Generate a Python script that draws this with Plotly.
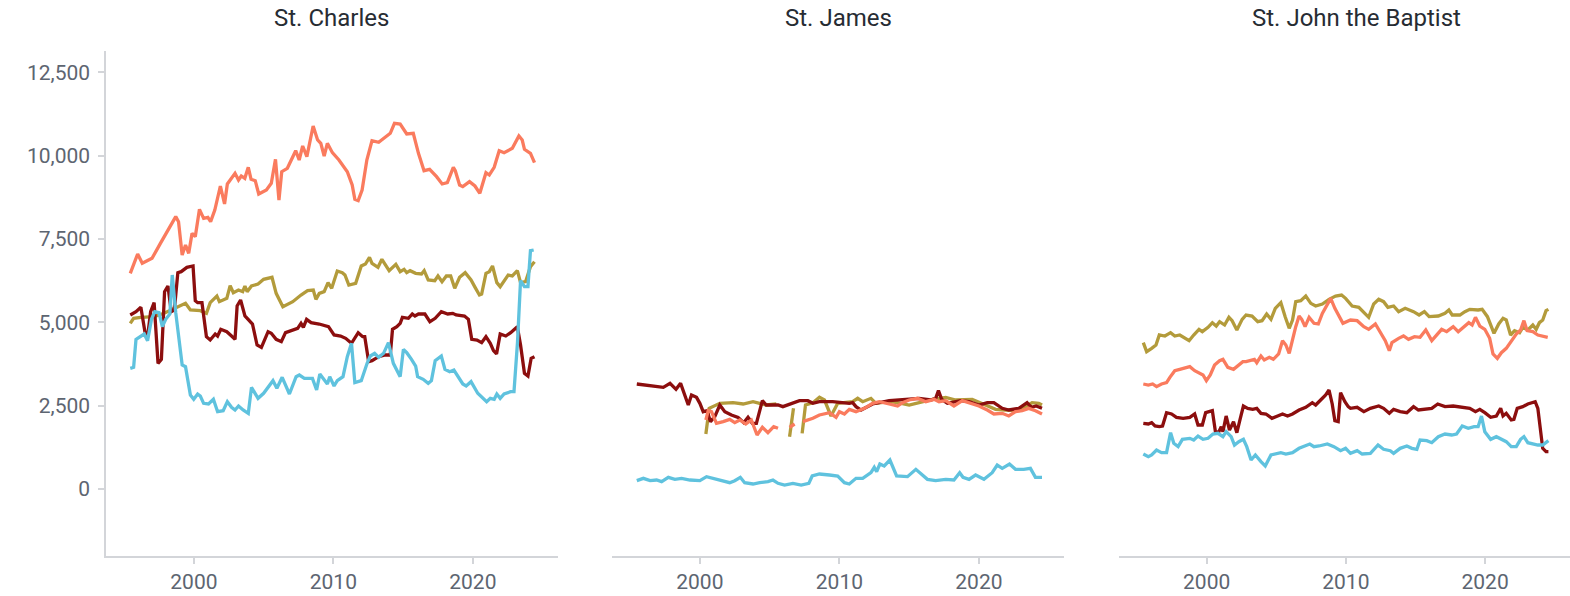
import plotly.graph_objects as go

# ---------------- data (year, value) ----------------
panels = ["St. Charles", "St. James", "St. John the Baptist"]
series_names = ["Series A", "Series B", "Series C", "Series D"]
colors = ["#B39B3B", "#8C0E0E", "#FA7B5E", "#5FC2DE"]  # olive, dark red, salmon, blue

# St. Charles
charles_salmon_x = [1995.44, 1995.85, 1995.97, 1996.3, 1997.0, 1997.6, 1998.2, 1998.7, 1998.9, 1999.16, 1999.4, 1999.63, 1999.87, 2000.1, 2000.4, 2000.7, 2001.0, 2001.2, 2001.5, 2001.9, 2002.2, 2002.4, 2002.95, 2003.2, 2003.4, 2003.65, 2003.9, 2004.1, 2004.4, 2004.65, 2005.2, 2005.55, 2005.85, 2006.1, 2006.3, 2006.7, 2007.3, 2007.55, 2007.8, 2008.1, 2008.55, 2008.87, 2009.1, 2009.34, 2009.57, 2009.93, 2010.4, 2011.0, 2011.35, 2011.54, 2011.78, 2012.06, 2012.4, 2012.77, 2013.25, 2013.72, 2014.08, 2014.38, 2014.79, 2015.26, 2015.73, 2016.1, 2016.5, 2016.9, 2017.4, 2017.8, 2018.17, 2018.6, 2018.74, 2019.05, 2019.28, 2019.76, 2020.15, 2020.5, 2020.94, 2021.18, 2021.53, 2021.89, 2022.24, 2022.83, 2023.3, 2023.54, 2023.7, 2024.13, 2024.42]
charles_salmon_y = [6470, 6970, 7050, 6770, 6920, 7370, 7820, 8170, 8020, 7020, 7320, 7070, 7670, 7570, 8390, 8120, 8150, 8020, 8370, 9090, 8550, 9150, 9470, 9270, 9390, 9320, 9650, 9290, 9250, 8850, 8970, 9170, 9890, 8670, 9520, 9620, 10150, 9870, 10290, 9970, 10890, 10470, 10370, 9990, 10370, 10090, 9870, 9520, 9120, 8690, 8650, 8970, 9870, 10450, 10400, 10570, 10670, 10970, 10950, 10650, 10670, 10070, 9550, 9590, 9370, 9150, 9190, 9650, 9550, 9120, 9070, 9220, 9090, 8870, 9490, 9420, 9650, 10150, 10090, 10220, 10590, 10470, 10190, 10070, 9790]

charles_olive_x = [1995.44, 1995.68, 1996.2, 1997.15, 1997.86, 1998.8, 1999.4, 1999.75, 2000.46, 2000.9, 2001.17, 2001.65, 2001.83, 2002.36, 2002.6, 2002.83, 2003.2, 2003.5, 2003.66, 2003.82, 2004.13, 2004.6, 2005.0, 2005.6, 2005.9, 2006.38, 2007.09, 2007.68, 2008.15, 2008.56, 2008.75, 2008.99, 2009.34, 2009.62, 2009.88, 2010.28, 2010.64, 2010.83, 2011.11, 2011.6, 2012.0, 2012.3, 2012.59, 2012.77, 2013.2, 2013.48, 2014.0, 2014.48, 2014.79, 2015.07, 2015.26, 2015.5, 2015.9, 2016.32, 2016.51, 2016.8, 2017.27, 2017.5, 2017.79, 2018.1, 2018.41, 2018.7, 2019.05, 2019.45, 2019.87, 2020.16, 2020.47, 2020.63, 2020.94, 2021.18, 2021.41, 2021.72, 2021.96, 2022.53, 2022.83, 2023.19, 2023.42, 2023.78, 2024.13, 2024.42]
charles_olive_y = [4970, 5120, 5150, 5170, 5270, 5450, 5570, 5370, 5350, 5270, 5590, 5790, 5620, 5720, 6100, 5890, 5970, 5920, 6090, 5920, 6090, 6150, 6290, 6350, 5870, 5470, 5620, 5820, 5950, 5970, 5690, 5870, 5920, 6190, 6020, 6540, 6490, 6420, 6120, 6170, 6690, 6750, 6950, 6770, 6650, 6890, 6550, 6740, 6520, 6590, 6490, 6550, 6470, 6450, 6550, 6270, 6250, 6390, 6220, 6390, 6390, 6020, 6350, 6490, 6270, 6050, 5820, 5850, 6470, 6520, 6690, 6190, 6070, 6420, 6390, 6550, 6190, 6220, 6670, 6820]

charles_red_x = [1995.44, 1995.85, 1996.2, 1996.49, 1996.68, 1996.9, 1997.15, 1997.43, 1997.67, 1997.9, 1998.14, 1998.38, 1998.6, 1998.85, 1999.09, 1999.5, 1999.94, 2000.1, 2000.27, 2000.58, 2000.9, 2001.17, 2001.53, 2001.7, 2001.93, 2002.36, 2002.7, 2002.95, 2003.1, 2003.35, 2003.66, 2003.9, 2004.2, 2004.53, 2004.84, 2005.32, 2005.55, 2005.9, 2006.27, 2006.57, 2007.09, 2007.44, 2007.68, 2007.85, 2008.08, 2008.4, 2008.98, 2009.65, 2010.05, 2010.52, 2010.88, 2011.3, 2011.78, 2012.1, 2012.25, 2012.53, 2012.77, 2013.25, 2013.72, 2014.08, 2014.24, 2014.55, 2014.79, 2014.95, 2015.38, 2015.66, 2015.85, 2016.1, 2016.56, 2016.92, 2017.3, 2017.74, 2018.2, 2018.56, 2018.8, 2019.4, 2019.68, 2019.92, 2020.3, 2020.63, 2020.94, 2021.25, 2021.48, 2021.7, 2021.96, 2022.36, 2022.71, 2023.19, 2023.42, 2023.7, 2023.95, 2024.18, 2024.42]
charles_red_y = [5220, 5320, 5450, 4720, 4570, 5320, 5590, 3770, 3890, 5920, 6090, 5320, 5370, 6490, 6520, 6650, 6690, 5650, 5590, 5590, 4570, 4470, 4650, 4590, 4790, 4720, 4590, 4490, 5490, 5670, 5190, 5070, 4950, 4320, 4250, 4720, 4670, 4490, 4420, 4690, 4770, 4820, 4970, 4850, 5090, 4990, 4950, 4870, 4620, 4590, 4520, 4370, 4690, 4570, 4570, 3820, 3850, 3970, 4020, 4020, 4790, 4870, 4970, 5150, 5120, 5250, 5190, 5250, 5250, 5020, 5120, 5320, 5250, 5270, 5220, 5190, 5090, 4490, 4470, 4390, 4570, 4370, 4150, 4050, 4650, 4590, 4690, 4870, 4320, 3470, 3390, 3920, 3970]

charles_blue_x = [1995.44, 1995.68, 1995.85, 1996.2, 1996.44, 1996.68, 1996.96, 1997.2, 1997.5, 1997.74, 1997.98, 1998.28, 1998.45, 1998.7, 1999.0, 1999.16, 1999.4, 1999.75, 1999.99, 2000.27, 2000.46, 2000.7, 2001.05, 2001.4, 2001.7, 2002.1, 2002.4, 2002.7, 2002.95, 2003.2, 2003.53, 2003.9, 2004.13, 2004.6, 2005.0, 2005.38, 2005.67, 2005.95, 2006.33, 2006.85, 2007.33, 2007.56, 2007.92, 2008.5, 2008.8, 2009.03, 2009.34, 2009.57, 2009.74, 2010.05, 2010.28, 2010.69, 2011.0, 2011.3, 2011.54, 2012.0, 2012.42, 2012.65, 2012.96, 2013.25, 2013.6, 2013.95, 2014.3, 2014.79, 2015.02, 2015.26, 2015.6, 2015.9, 2016.04, 2016.44, 2016.8, 2017.03, 2017.3, 2017.74, 2018.0, 2018.34, 2018.64, 2018.88, 2019.28, 2019.52, 2019.87, 2020.35, 2020.63, 2020.99, 2021.25, 2021.53, 2021.72, 2021.96, 2022.24, 2022.53, 2022.71, 2022.95, 2023.2, 2023.42, 2023.7, 2023.95, 2024.13, 2024.36]
charles_blue_y = [3620, 3650, 4490, 4570, 4650, 4450, 5090, 5320, 5290, 4870, 5090, 5250, 6420, 5290, 4250, 3720, 3670, 2820, 2690, 2850, 2790, 2570, 2550, 2690, 2320, 2350, 2620, 2450, 2370, 2490, 2370, 2270, 3050, 2720, 2870, 3090, 3250, 3020, 3350, 2850, 3370, 3420, 3320, 3320, 2970, 3450, 3290, 3150, 3370, 3090, 3250, 3370, 3970, 4370, 3190, 3250, 3770, 3990, 4070, 3950, 4070, 4390, 3770, 3370, 4190, 4090, 3890, 3690, 3370, 3290, 3170, 3250, 3850, 3990, 3590, 3520, 3570, 3420, 3150, 3090, 3220, 2870, 2750, 2620, 2720, 2690, 2850, 2720, 2850, 2890, 2920, 2920, 4400, 6250, 6070, 6070, 7150, 7170]

# St. James (None marks gaps in the series)
james_olive_x = [2000.43, 2000.67, 2001.43, 2002.38, 2003.1, 2003.81, 2004.76, 2005.48, 2005.9, 2006.43, 2006.71, 2007.0, 2007.33, 2007.57, 2008.1, 2008.57, 2008.93, 2009.4, 2009.88, 2010.95, 2011.31, 2011.67, 2012.26, 2012.62, 2013.57, 2014.17, 2015.0, 2015.71, 2016.67, 2017.62, 2018.33, 2019.52, 2020.48, 2021.19, 2021.9, 2022.62, 2023.33, 2023.81, 2024.29, 2024.52]
james_olive_y = [1650, 2420, 2570, 2590, 2550, 2620, 2520, 2550, None, 1570, 2420, None, 1670, 2520, 2590, 2750, 2670, 2190, 2570, 2620, 2720, 2620, 2720, 2570, 2620, 2590, 2520, 2590, 2690, 2750, 2670, 2690, 2520, 2390, 2370, 2350, 2470, 2590, 2570, 2520]

james_red_x = [1995.48, 1995.95, 1996.43, 1996.9, 1997.38, 1997.86, 1998.29, 1998.62, 1998.93, 1999.17, 1999.4, 1999.76, 2000.0, 2000.24, 2000.52, 2000.76, 2001.07, 2001.43, 2001.79, 2002.26, 2002.74, 2003.14, 2003.45, 2003.76, 2004.05, 2004.29, 2004.48, 2004.76, 2005.19, 2005.6, 2005.95, 2006.55, 2007.14, 2007.74, 2008.1, 2008.57, 2009.52, 2010.71, 2010.95, 2011.19, 2011.55, 2012.38, 2013.57, 2014.76, 2015.71, 2016.55, 2016.9, 2017.1, 2017.33, 2017.74, 2018.21, 2018.69, 2019.29, 2020.0, 2020.6, 2021.07, 2021.67, 2022.14, 2022.86, 2023.45, 2023.76, 2024.1, 2024.52]
james_red_y = [3150, 3120, 3090, 3070, 3050, 3170, 2990, 3170, 2770, 2520, 2820, 2750, 2570, 2320, 2350, 2020, 2170, 2520, 2320, 2220, 2150, 1990, 2150, 1970, 1970, 2370, 2650, 2520, 2520, 2520, 2470, 2550, 2650, 2650, 2570, 2620, 2620, 2570, 2590, 2470, 2370, 2550, 2650, 2690, 2720, 2670, 2720, 2950, 2690, 2570, 2620, 2650, 2620, 2520, 2590, 2590, 2420, 2370, 2420, 2590, 2450, 2490, 2420]

james_salmon_x = [2000.43, 2000.6, 2000.83, 2001.19, 2001.67, 2002.14, 2002.5, 2002.86, 2003.29, 2003.69, 2004.1, 2004.48, 2004.88, 2005.29, 2005.6, 2006.0, 2006.43, 2006.79, 2007.1, 2007.38, 2008.1, 2008.57, 2009.29, 2009.76, 2010.0, 2010.36, 2010.71, 2011.19, 2011.79, 2012.38, 2012.86, 2013.57, 2014.17, 2014.52, 2015.0, 2015.6, 2016.19, 2016.79, 2017.14, 2017.62, 2018.21, 2018.81, 2019.4, 2020.0, 2020.6, 2021.07, 2021.67, 2022.14, 2022.62, 2023.1, 2023.57, 2024.05, 2024.52]
james_salmon_y = [2070, 2350, 2320, 1970, 2020, 2090, 1990, 2070, 1950, 2070, 1620, 1850, 1690, 1870, 1820, None, 1850, 1950, None, 2020, 2120, 2220, 2290, 2150, 2320, 2250, 2390, 2320, 2420, 2570, 2620, 2550, 2490, 2590, 2670, 2720, 2620, 2690, 2620, 2650, 2490, 2650, 2570, 2490, 2370, 2250, 2270, 2190, 2320, 2350, 2420, 2350, 2250]

james_blue_x = [1995.48, 1995.95, 1996.43, 1996.9, 1997.26, 1997.74, 1998.21, 1998.69, 1999.29, 2000.0, 2000.48, 2000.95, 2001.55, 2002.14, 2002.5, 2002.9, 2003.21, 2003.81, 2004.29, 2004.88, 2005.24, 2005.6, 2006.07, 2006.67, 2007.26, 2007.81, 2008.05, 2008.57, 2009.29, 2009.88, 2010.36, 2010.71, 2011.19, 2011.67, 2012.26, 2012.5, 2012.67, 2012.9, 2013.21, 2013.62, 2014.1, 2014.88, 2015.48, 2016.31, 2016.9, 2017.62, 2018.21, 2018.62, 2018.86, 2019.29, 2019.76, 2020.36, 2020.95, 2021.31, 2021.67, 2022.19, 2022.62, 2023.21, 2023.69, 2024.05, 2024.52]
james_blue_y = [250, 320, 250, 270, 220, 350, 290, 320, 270, 250, 370, 320, 250, 190, 250, 350, 190, 150, 190, 220, 270, 170, 120, 170, 120, 170, 390, 450, 420, 390, 190, 150, 320, 320, 490, 650, 520, 750, 690, 870, 390, 370, 590, 290, 250, 290, 270, 490, 350, 290, 420, 290, 490, 720, 620, 750, 590, 590, 620, 350, 350]

# St. John the Baptist
john_olive_x = [1995.45, 1995.69, 1996.05, 1996.36, 1996.6, 1997.0, 1997.41, 1997.71, 1998.07, 1998.43, 1998.74, 1999.07, 1999.45, 1999.69, 2000.1, 2000.41, 2000.69, 2000.93, 2001.29, 2001.6, 2001.83, 2002.17, 2002.55, 2002.83, 2003.26, 2003.67, 2003.98, 2004.31, 2004.62, 2004.93, 2005.33, 2005.64, 2005.93, 2006.17, 2006.4, 2006.76, 2007.12, 2007.48, 2007.83, 2008.31, 2008.79, 2009.26, 2009.69, 2009.98, 2010.45, 2010.93, 2011.29, 2011.64, 2012.0, 2012.36, 2012.71, 2013.02, 2013.43, 2013.79, 2014.26, 2014.86, 2015.26, 2015.64, 2015.98, 2016.64, 2017.12, 2017.4, 2017.64, 2018.19, 2018.55, 2018.9, 2019.5, 2019.79, 2020.17, 2020.45, 2020.64, 2020.98, 2021.29, 2021.52, 2021.83, 2022.12, 2022.48, 2022.71, 2023.07, 2023.43, 2023.67, 2023.9, 2024.14, 2024.38, 2024.55]
john_olive_y = [4390, 4120, 4220, 4320, 4620, 4590, 4690, 4590, 4620, 4520, 4450, 4620, 4790, 4720, 4850, 4990, 4890, 5020, 4920, 5150, 5050, 4770, 5090, 5220, 5190, 5020, 5050, 5250, 5090, 5420, 5590, 5170, 4820, 5070, 5620, 5650, 5790, 5570, 5490, 5550, 5690, 5790, 5820, 5720, 5490, 5450, 5290, 5150, 5550, 5690, 5620, 5450, 5490, 5320, 5420, 5320, 5220, 5320, 5170, 5190, 5270, 5370, 5220, 5220, 5320, 5390, 5370, 5390, 5170, 4870, 4670, 4950, 5120, 5070, 4620, 4750, 4690, 4850, 4770, 4920, 4790, 4990, 5070, 5350, 5390]

john_red_x = [1995.45, 1995.81, 1996.05, 1996.29, 1996.6, 1996.83, 1997.12, 1997.48, 1997.83, 1998.31, 1998.79, 1999.14, 1999.38, 1999.69, 1999.93, 2000.17, 2000.41, 2000.64, 2000.88, 2001.05, 2001.17, 2001.4, 2001.64, 2001.93, 2002.17, 2002.4, 2002.64, 2002.95, 2003.31, 2003.6, 2003.9, 2004.26, 2004.69, 2005.1, 2005.45, 2005.81, 2006.17, 2006.64, 2007.12, 2007.59, 2007.83, 2008.19, 2008.55, 2008.79, 2009.02, 2009.21, 2009.45, 2009.62, 2009.93, 2010.17, 2010.33, 2010.81, 2011.29, 2011.76, 2012.36, 2012.71, 2013.12, 2013.43, 2013.9, 2014.38, 2014.86, 2015.21, 2015.81, 2016.17, 2016.6, 2017.12, 2017.71, 2018.31, 2018.9, 2019.31, 2019.62, 2019.98, 2020.4, 2020.81, 2021.12, 2021.29, 2021.52, 2021.88, 2022.07, 2022.31, 2022.71, 2023.07, 2023.36, 2023.6, 2023.79, 2023.98, 2024.14, 2024.38, 2024.55]
john_red_y = [1970, 1950, 1990, 1890, 1870, 1890, 2290, 2250, 2150, 2120, 2150, 2250, 1920, 1920, 2290, 2320, 2350, 1690, 1720, 1870, 1720, 2190, 1770, 2020, 1690, 2090, 2490, 2420, 2390, 2420, 2270, 2250, 2120, 2190, 2250, 2190, 2250, 2370, 2450, 2590, 2520, 2670, 2820, 2970, 2550, 2050, 2020, 2890, 2620, 2470, 2420, 2450, 2320, 2420, 2490, 2420, 2270, 2390, 2320, 2290, 2470, 2370, 2390, 2420, 2550, 2470, 2490, 2450, 2420, 2320, 2390, 2290, 2150, 2190, 2420, 2190, 2270, 2070, 2090, 2420, 2470, 2550, 2590, 2620, 2420, 1790, 1220, 1120, 1120]

john_salmon_x = [1995.45, 1995.81, 1996.12, 1996.4, 1996.76, 1997.12, 1997.36, 1997.71, 1998.07, 1998.43, 1998.79, 1999.14, 1999.5, 1999.74, 1999.98, 2000.26, 2000.57, 2000.93, 2001.17, 2001.52, 2001.93, 2002.24, 2002.6, 2002.83, 2003.19, 2003.43, 2003.6, 2003.9, 2004.14, 2004.5, 2004.79, 2005.17, 2005.45, 2005.69, 2005.93, 2006.17, 2006.4, 2006.64, 2006.83, 2007.07, 2007.36, 2007.71, 2008.02, 2008.31, 2008.6, 2008.91, 2009.21, 2009.5, 2009.79, 2010.33, 2010.81, 2011.29, 2011.64, 2012.12, 2012.48, 2012.83, 2013.12, 2013.31, 2013.79, 2014.14, 2014.5, 2014.93, 2015.33, 2015.74, 2016.17, 2016.52, 2016.88, 2017.24, 2017.71, 2018.07, 2018.5, 2018.83, 2019.07, 2019.31, 2019.62, 2019.98, 2020.33, 2020.57, 2020.88, 2021.17, 2021.52, 2021.88, 2022.24, 2022.55, 2022.79, 2023.02, 2023.43, 2023.79, 2024.14, 2024.5]
john_salmon_y = [3150, 3120, 3150, 3070, 3150, 3190, 3350, 3550, 3590, 3620, 3670, 3550, 3470, 3420, 3250, 3420, 3720, 3850, 3890, 3650, 3590, 3690, 3820, 3820, 3870, 3890, 3790, 3990, 3870, 3950, 3890, 4050, 4450, 4320, 4070, 4490, 4870, 5190, 5090, 4870, 5150, 4970, 4950, 5270, 5490, 5720, 5420, 5170, 4970, 5070, 5050, 4870, 4790, 4950, 4670, 4450, 4150, 4390, 4520, 4590, 4490, 4570, 4550, 4770, 4450, 4620, 4790, 4720, 4870, 4720, 4870, 4990, 4920, 5150, 4890, 4790, 4520, 4050, 3920, 4090, 4220, 4420, 4650, 4770, 5050, 4750, 4720, 4620, 4590, 4550]

john_blue_x = [1995.45, 1995.81, 1996.05, 1996.4, 1996.76, 1997.12, 1997.41, 1997.64, 1997.95, 1998.26, 1998.79, 1999.07, 1999.38, 1999.74, 2000.1, 2000.45, 2000.81, 2001.17, 2001.4, 2001.76, 2002.0, 2002.31, 2002.64, 2002.88, 2003.19, 2003.5, 2003.9, 2004.21, 2004.62, 2004.98, 2005.33, 2005.69, 2006.17, 2006.64, 2007.0, 2007.41, 2007.71, 2008.07, 2008.67, 2009.14, 2009.62, 2009.98, 2010.33, 2010.81, 2011.17, 2011.76, 2012.31, 2012.71, 2013.19, 2013.43, 2013.9, 2014.38, 2014.74, 2015.1, 2015.33, 2015.81, 2016.17, 2016.64, 2017.12, 2017.6, 2017.95, 2018.36, 2018.79, 2019.21, 2019.5, 2019.74, 2019.98, 2020.4, 2020.81, 2021.17, 2021.52, 2021.88, 2022.24, 2022.55, 2022.79, 2023.07, 2023.43, 2023.79, 2024.14, 2024.55]
john_blue_y = [1050, 970, 1020, 1170, 1090, 1090, 1690, 1370, 1270, 1490, 1520, 1470, 1590, 1490, 1520, 1650, 1670, 1570, 1720, 1570, 1320, 1420, 1490, 1270, 870, 1020, 820, 690, 1020, 1050, 1090, 1050, 1090, 1220, 1290, 1350, 1270, 1290, 1350, 1270, 1150, 1220, 1070, 1150, 1050, 1070, 1320, 1190, 1150, 1070, 1220, 1290, 1220, 1190, 1470, 1450, 1390, 1570, 1650, 1620, 1650, 1890, 1820, 1870, 1870, 2190, 1720, 1490, 1570, 1490, 1420, 1270, 1270, 1490, 1570, 1390, 1350, 1320, 1320, 1450]

y_tickvals = [0, 2500, 5000, 7500, 10000, 12500]
x_tickvals = [2000, 2010, 2020]

panel_data = [
    [(charles_olive_x, charles_olive_y), (charles_red_x, charles_red_y),
     (charles_salmon_x, charles_salmon_y), (charles_blue_x, charles_blue_y)],
    [(james_olive_x, james_olive_y), (james_red_x, james_red_y),
     (james_salmon_x, james_salmon_y), (james_blue_x, james_blue_y)],
    [(john_olive_x, john_olive_y), (john_red_x, john_red_y),
     (john_salmon_x, john_salmon_y), (john_blue_x, john_blue_y)],
]

# ---------------- figure ----------------
fig = go.Figure()
xrefs = ["x", "x2", "x3"]
for p, series in enumerate(panel_data):
    for s, (xs, ys) in enumerate(series):
        fig.add_trace(go.Scatter(
            x=xs, y=ys, mode="lines", name=series_names[s],
            xaxis=xrefs[p], yaxis="y",
            line=dict(color=colors[s], width=3.3),
            connectgaps=False, showlegend=False,
        ))

axis_col = "#d3d5d9"
FONT = "Roboto, Arial, sans-serif"
ytick_font = dict(family=FONT, size=21, color="#5d6571")
xtick_font = dict(family=FONT, size=21, color="#5d6571")
domains = [[0.0, 0.3087], [0.3456, 0.6544], [0.6919, 1.0]]
title_x = [0.154, 0.5, 0.8545]
xcommon = dict(range=[1993.7, 2026.1], showgrid=False, zeroline=False,
               showline=True, linecolor=axis_col, linewidth=1.5,
               ticks="outside", ticklen=6, tickcolor=axis_col, tickwidth=1.5,
               tickvals=x_tickvals, tickfont=xtick_font, anchor="y")

layout = dict(
    width=1570, height=596,
    margin=dict(l=106, r=0, t=51, b=40),
    paper_bgcolor="white", plot_bgcolor="white",
    yaxis=dict(range=[-2010, 13140], showgrid=False, zeroline=False,
               showline=True, linecolor=axis_col, linewidth=1.5,
               ticks="outside", ticklen=6, tickcolor=axis_col, tickwidth=1.5,
               tickvals=y_tickvals, ticktext=[f"{v:,}" for v in y_tickvals],
               tickfont=ytick_font, ticklabelstandoff=4, anchor="x"),
    font=dict(family=FONT),
)
for i, d in enumerate(domains):
    key = "xaxis" if i == 0 else f"xaxis{i+1}"
    layout[key] = dict(xcommon, domain=d)
fig.update_layout(**layout)

for i in range(3):
    fig.add_annotation(text=panels[i], xref="paper", yref="paper",
                       x=title_x[i], y=1.065, xanchor="center", yanchor="middle",
                       showarrow=False,
                       font=dict(family=FONT, size=24, color="#272c33"))

fig.write_html("out.html", config={"displayModeBar": False},
               post_script="document.body.style.margin='0';")
